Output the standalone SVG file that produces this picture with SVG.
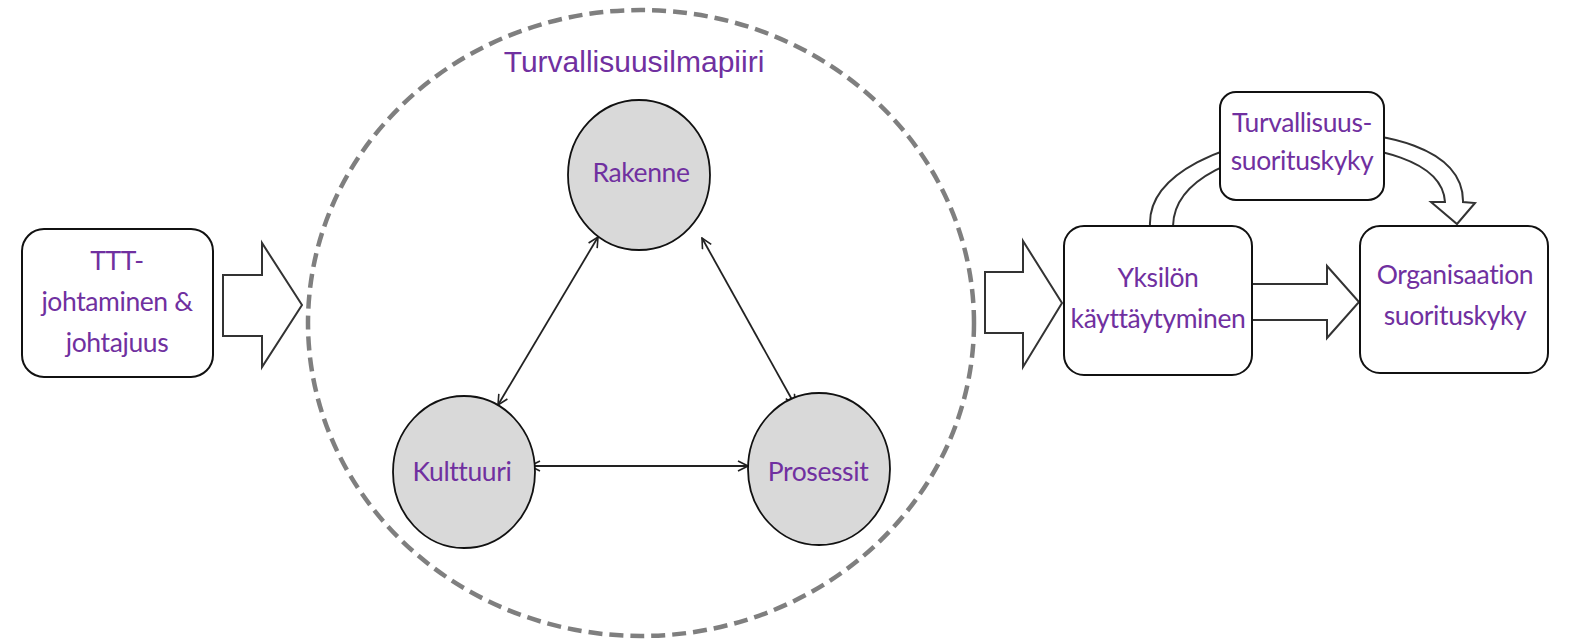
<svg xmlns="http://www.w3.org/2000/svg" width="1580" height="643" viewBox="0 0 1580 643">
<defs>
<marker id="open" viewBox="0 0 12 12" refX="11" refY="6" markerWidth="12" markerHeight="12" markerUnits="userSpaceOnUse" orient="auto-start-reverse">
<path d="M1,1 L11,6 L1,11" fill="none" stroke="#222" stroke-width="1.6"/>
</marker>
</defs>
<style>
.lbl{font-family:Lato,"Open Sans",sans-serif;font-size:26.5px;fill:#7030A0;text-anchor:middle;letter-spacing:-0.4px}
.title{font-family:"Liberation Sans",Arial,sans-serif;font-size:30px;fill:#7030A0;text-anchor:middle}
.box{fill:#fff;stroke:#111;stroke-width:2}
.circ{fill:#D9D9D9;stroke:#111;stroke-width:1.8}
.blk{fill:#fff;stroke:#333;stroke-width:2;stroke-linejoin:miter}
.line{fill:none;stroke:#222;stroke-width:1.8}
</style>
<rect width="1580" height="643" fill="#fff"/>
<g id="climate">
<ellipse cx="641" cy="323" rx="333" ry="313" fill="none" stroke="#7f7f7f" stroke-width="4.5" stroke-dasharray="14 7"/>
<text class="title" x="634" y="72">Turvallisuusilmapiiri</text>
</g>
<g id="connectors">
<polygon class="blk" points="223,275 262,275 262,243 302,305 262,367 262,336 223,336"/>
<polygon class="blk" points="985,272 1023,272 1023,241 1062,303 1023,367 1023,333 985,333"/>
<path class="blk" d="M1252,284 L1327,284 L1327,266 L1359,302 L1327,338 L1327,320 L1252,320"/>
<path class="blk" d="M1150,226 C1145,120 1465,95 1463,202 L1475,203 L1457,224 L1431,202 L1445,202 C1440,120 1175,130 1173,226"/>
<line class="line" x1="598" y1="237" x2="498" y2="405" marker-start="url(#open)" marker-end="url(#open)"/>
<line class="line" x1="702" y1="238" x2="795" y2="405" marker-start="url(#open)" marker-end="url(#open)"/>
<line class="line" x1="530" y1="466" x2="748" y2="466" marker-start="url(#open)" marker-end="url(#open)"/>
</g>
<g id="n-ttt">
<rect class="box" x="22" y="229" width="191" height="148" rx="22"/>
<text class="lbl" x="117" y="270">TTT-</text>
<text class="lbl" x="117" y="311">johtaminen &amp;</text>
<text class="lbl" x="117" y="352">johtajuus</text>
</g>
<g id="n-rakenne">
<ellipse class="circ" cx="639" cy="175" rx="71" ry="75"/>
<text class="lbl" x="641" y="182">Rakenne</text>
</g>
<g id="n-kulttuuri">
<ellipse class="circ" cx="464" cy="472" rx="71" ry="76"/>
<text class="lbl" x="462" y="481">Kulttuuri</text>
</g>
<g id="n-prosessit">
<ellipse class="circ" cx="819" cy="469" rx="71" ry="76"/>
<text class="lbl" x="818" y="481">Prosessit</text>
</g>
<g id="n-turvallisuus">
<rect class="box" x="1220" y="92" width="164" height="108" rx="16"/>
<text class="lbl" x="1302" y="132">Turvallisuus-</text>
<text class="lbl" x="1302" y="170">suorituskyky</text>
</g>
<g id="n-yksilo">
<rect class="box" x="1064" y="226" width="188" height="149" rx="20"/>
<text class="lbl" x="1158" y="287">Yksilön</text>
<text class="lbl" x="1158" y="328">käyttäytyminen</text>
</g>
<g id="n-organisaatio">
<rect class="box" x="1360" y="226" width="188" height="147" rx="20"/>
<text class="lbl" x="1455" y="284">Organisaation</text>
<text class="lbl" x="1455" y="325">suorituskyky</text>
</g>
</svg>
